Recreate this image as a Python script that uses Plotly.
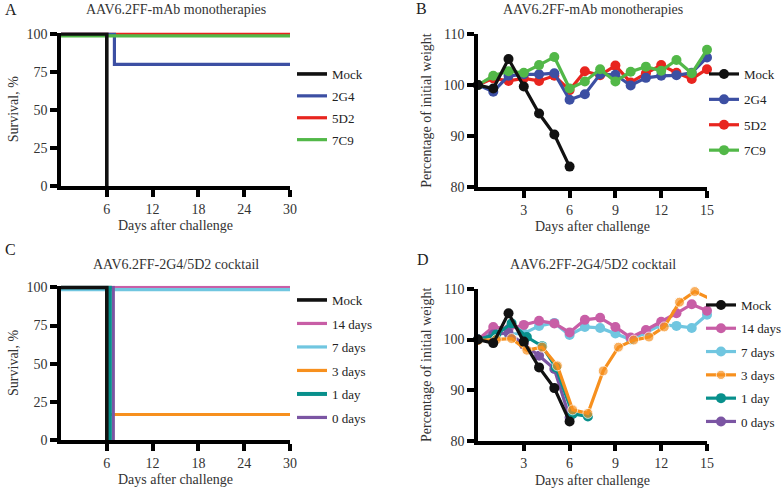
import plotly.graph_objects as go

# ---- survival, monotherapies (panel A) ----
surv_mock_x = [0, 6, 6]
surv_mock_y = [100, 100, 0]
surv_2g4_x = [0, 7, 7, 30]
surv_2g4_y = [100, 100, 80, 80]
surv_5d2_x = [0, 30]
surv_5d2_y = [100, 100]
surv_7c9_x = [0, 30]
surv_7c9_y = [98.8, 98.8]

# ---- weight, monotherapies (panel B) ----
days = list(range(16))
w_mock_days = [0, 1, 2, 3, 4, 5, 6]
w_mock = [100, 99.3, 105.1, 99.7, 94.4, 90.3, 84.0]
w_2g4 = [100, 98.7, 101.8, 102.1, 102.1, 102.3, 97.1, 98.2, 102.1, 102.0,
         99.9, 101.4, 101.8, 101.9, 102.4, 105.4]
w_5d2 = [100, 101.3, 100.8, 101.3, 100.8, 101.8, 99.0, 102.7, 101.9, 103.8,
         100.5, 102.3, 103.9, 102.4, 101.2, 103.1]
w_7c9 = [100, 101.8, 102.7, 102.4, 103.9, 105.5, 99.3, 100.7, 103.1, 100.7,
         102.6, 103.6, 102.8, 104.9, 102.3, 106.9]

# ---- survival, cocktail (panel C) ----
c_mock_x = [0, 6, 6]
c_mock_y = [100, 100, 0]
c_14_x = [0, 30]
c_14_y = [100, 100]
c_7_x = [0, 30]
c_7_y = [98.5, 98.5]
c_3_x = [0, 6.3, 6.3, 30]
c_3_y = [100, 100, 16.7, 16.7]
c_1_x = [0, 6.4, 6.4]
c_1_y = [100, 100, 0]
c_0_x = [0, 6.85, 6.85]
c_0_y = [100, 100, 0]

# ---- weight, cocktail (panel D) ----
d_mock_days = [0, 1, 2, 3, 4, 5, 6]
d_mock = [100, 99.3, 105.2, 99.6, 94.5, 90.4, 83.8]
d_14 = [100, 102.5, 102.1, 102.9, 103.7, 103.2, 101.4, 103.9, 104.3, 102.5,
        100.4, 101.9, 103.5, 105.2, 107.0, 105.7]
d_7 = [100, 101.4, 101.1, 101.2, 102.7, 103.3, 100.9, 102.5, 102.3, 101.2,
       100.0, 101.4, 102.9, 102.7, 102.3, 104.9]
d_3_days = [0, 1.2, 2.2, 3.2, 4.2, 5.2, 6.2, 7.2, 8.2, 9.2, 10.2, 11.2,
            12.2, 13.2, 14.2, 15.2]
d_3 = [99.8, 100.0, 100.2, 97.9, 98.5, 94.8, 86.1, 85.4, 93.8, 98.5,
       99.9, 100.5, 102.5, 107.4, 109.5, 108.1]
d_1_days = [0, 1.2, 2.2, 3.2, 4.2, 5.1, 6.2, 7.2]
d_1 = [100, 101.0, 103.2, 100.5, 98.7, 94.5, 85.3, 84.8]
d_0_days = [0, 1, 2, 3, 4, 5, 6]
d_0 = [100, 101.0, 101.3, 99.0, 96.8, 94.2, 84.6]

BLACK = "#111111"
BLUE = "#3c4fa3"
RED = "#e8251f"
GREEN = "#52b848"
PINK = "#c85ea6"
LBLUE = "#70c6e0"
ORANGE = "#f7901e"
TEAL = "#08908c"
PURPLE = "#7b55a3"

FONT = "Liberation Serif"
W = 784
H = 488

fig = go.Figure()


def step(x, y, name, color, ax, leg, rank, width=3.2):
    fig.add_trace(go.Scatter(
        x=x, y=y, name=name, mode="lines",
        line=dict(color=color, width=width),
        xaxis="x" + ax, yaxis="y" + ax,
        legend=leg, legendgroup=leg + name, legendrank=rank,
    ))


def weight(x, y, name, color, ax, leg, rank, sizes=None):
    fig.add_trace(go.Scatter(
        x=x, y=y, name=name, mode="lines+markers",
        line=dict(color=color, width=3.2),
        marker=dict(color=color, size=sizes if sizes else 10),
        cliponaxis=False,
        xaxis="x" + ax, yaxis="y" + ax,
        legend=leg, legendgroup=leg + name, legendrank=rank,
    ))


# panel A
step(surv_5d2_x, surv_5d2_y, "5D2", RED, "", "legend", 3)
step(surv_2g4_x, surv_2g4_y, "2G4", BLUE, "", "legend", 2)
step(surv_7c9_x, surv_7c9_y, "7C9", GREEN, "", "legend", 4)
step(surv_mock_x, surv_mock_y, "Mock", BLACK, "", "legend", 1, 3.6)

# panel B
weight(days, w_5d2, "5D2", RED, "2", "legend2", 3)
weight(days, w_2g4, "2G4", BLUE, "2", "legend2", 2)
weight(days, w_7c9, "7C9", GREEN, "2", "legend2", 4)
weight(w_mock_days, w_mock, "Mock", BLACK, "2", "legend2", 1)

# panel C
step(c_14_x, c_14_y, "14 days", PINK, "3", "legend3", 2)
step(c_7_x, c_7_y, "7 days", LBLUE, "3", "legend3", 3)
step(c_3_x, c_3_y, "3 days", ORANGE, "3", "legend3", 4)
step(c_0_x, c_0_y, "0 days", PURPLE, "3", "legend3", 6)
step(c_1_x, c_1_y, "1 day", TEAL, "3", "legend3", 5, 4)
step(c_mock_x, c_mock_y, "Mock", BLACK, "3", "legend3", 1, 3.6)

# panel D
weight(days, d_7, "7 days", LBLUE, "4", "legend4", 3)
weight(days, d_14, "14 days", PINK, "4", "legend4", 2)
weight(d_0_days, d_0, "0 days", PURPLE, "4", "legend4", 6)
weight(d_1_days, d_1, "1 day", TEAL, "4", "legend4", 5)
# last orange point lies past day 15: keep the line, hide its marker
weight(d_3_days, d_3, "3 days", ORANGE, "4", "legend4", 4,
       sizes=[10] * (len(d_3) - 1) + [0])
weight(d_mock_days, d_mock, "Mock", BLACK, "4", "legend4", 1)


def px_x(a, b):
    return [a / W, b / W]


def px_y(top, bottom):
    return [1 - bottom / H, 1 - top / H]


axis_style = dict(
    showline=True, linewidth=3.5, linecolor="black",
    ticks="outside", ticklen=7, tickwidth=3.5, tickcolor="black",
    showgrid=False, zeroline=False, automargin=False,
    tickfont=dict(family=FONT, size=14, color="#333333"),
    title_font=dict(family=FONT, size=14, color="#333333"),
    fixedrange=True,
)

xA = dict(axis_style, domain=px_x(61, 290), range=[0, 30],
          tickvals=[6, 12, 18, 24, 30])
xB = dict(axis_style, domain=px_x(478, 707), range=[0, 15],
          tickvals=[3, 6, 9, 12, 15])
ys = dict(axis_style, range=[0, 101], tickvals=[0, 25, 50, 75, 100])
yw = dict(axis_style, range=[80, 110], tickvals=[80, 90, 100, 110])

fig.update_layout(
    xaxis=dict(xA, anchor="y", title=dict(text="Days after challenge", standoff=6)),
    yaxis=dict(ys, anchor="x", domain=px_y(32.5, 186),
               title=dict(text="Survival, %", standoff=6)),
    xaxis2=dict(xB, anchor="y2", title=dict(text="Days after challenge", standoff=6)),
    yaxis2=dict(yw, anchor="x2", domain=px_y(34, 187),
                title=dict(text="Percentage of initial weight", standoff=10)),
    xaxis3=dict(xA, anchor="y3", title=dict(text="Days after challenge", standoff=6)),
    yaxis3=dict(ys, anchor="x3", domain=px_y(285.8, 440),
                title=dict(text="Survival, %", standoff=6)),
    xaxis4=dict(xB, anchor="y4", title=dict(text="Days after challenge", standoff=6)),
    yaxis4=dict(yw, anchor="x4", domain=px_y(289, 440.7),
                title=dict(text="Percentage of initial weight", standoff=10)),
)

leg_style = dict(
    font=dict(family=FONT, size=13, color="#222222"),
    bgcolor="rgba(0,0,0,0)", itemwidth=30,
    traceorder="grouped", xanchor="left", yanchor="top",
)
fig.update_layout(
    legend=dict(leg_style, x=292 / W, y=1 - 59 / H, tracegroupgap=2),
    legend2=dict(leg_style, x=704 / W, y=1 - 59 / H, tracegroupgap=5.5),
    legend3=dict(leg_style, x=292 / W, y=1 - 285 / H, tracegroupgap=3.6),
    legend4=dict(leg_style, x=701 / W, y=1 - 290 / H, tracegroupgap=3.4),
)

texts = []
letters = [("A", 3, 10), ("B", 414, 9), ("C", 3, 250), ("D", 415, 259)]
for letter, x, y in letters:
    texts.append(dict(text=letter, x=x / W, y=1 - y / H, xref="paper", yref="paper",
                      xanchor="left", yanchor="middle", showarrow=False,
                      font=dict(family=FONT, size=16, color="#222222")))
titles = [
    ("AAV6.2FF-mAb monotherapies", 175.5, 10),
    ("AAV6.2FF-mAb monotherapies", 592.5, 10),
    ("AAV6.2FF-2G4/5D2 cocktail", 175.5, 264.5),
    ("AAV6.2FF-2G4/5D2 cocktail", 592.5, 264.5),
]
for t, x, y in titles:
    texts.append(dict(text=t, x=x / W, y=1 - y / H, xref="paper", yref="paper",
                      xanchor="center", yanchor="middle", showarrow=False,
                      font=dict(family=FONT, size=14, color="#333333")))

fig.update_layout(
    annotations=texts,
    width=W, height=H,
    margin=dict(l=0, r=0, t=0, b=0, autoexpand=False),
    paper_bgcolor="white", plot_bgcolor="white",
    showlegend=True,
)

# drop the default page margin so the figure sits at the window's corner
fig.write_html("out.html",
               config={"displayModeBar": False},
               post_script="document.body.style.margin='0';"
                           "document.body.style.overflow='hidden';")
